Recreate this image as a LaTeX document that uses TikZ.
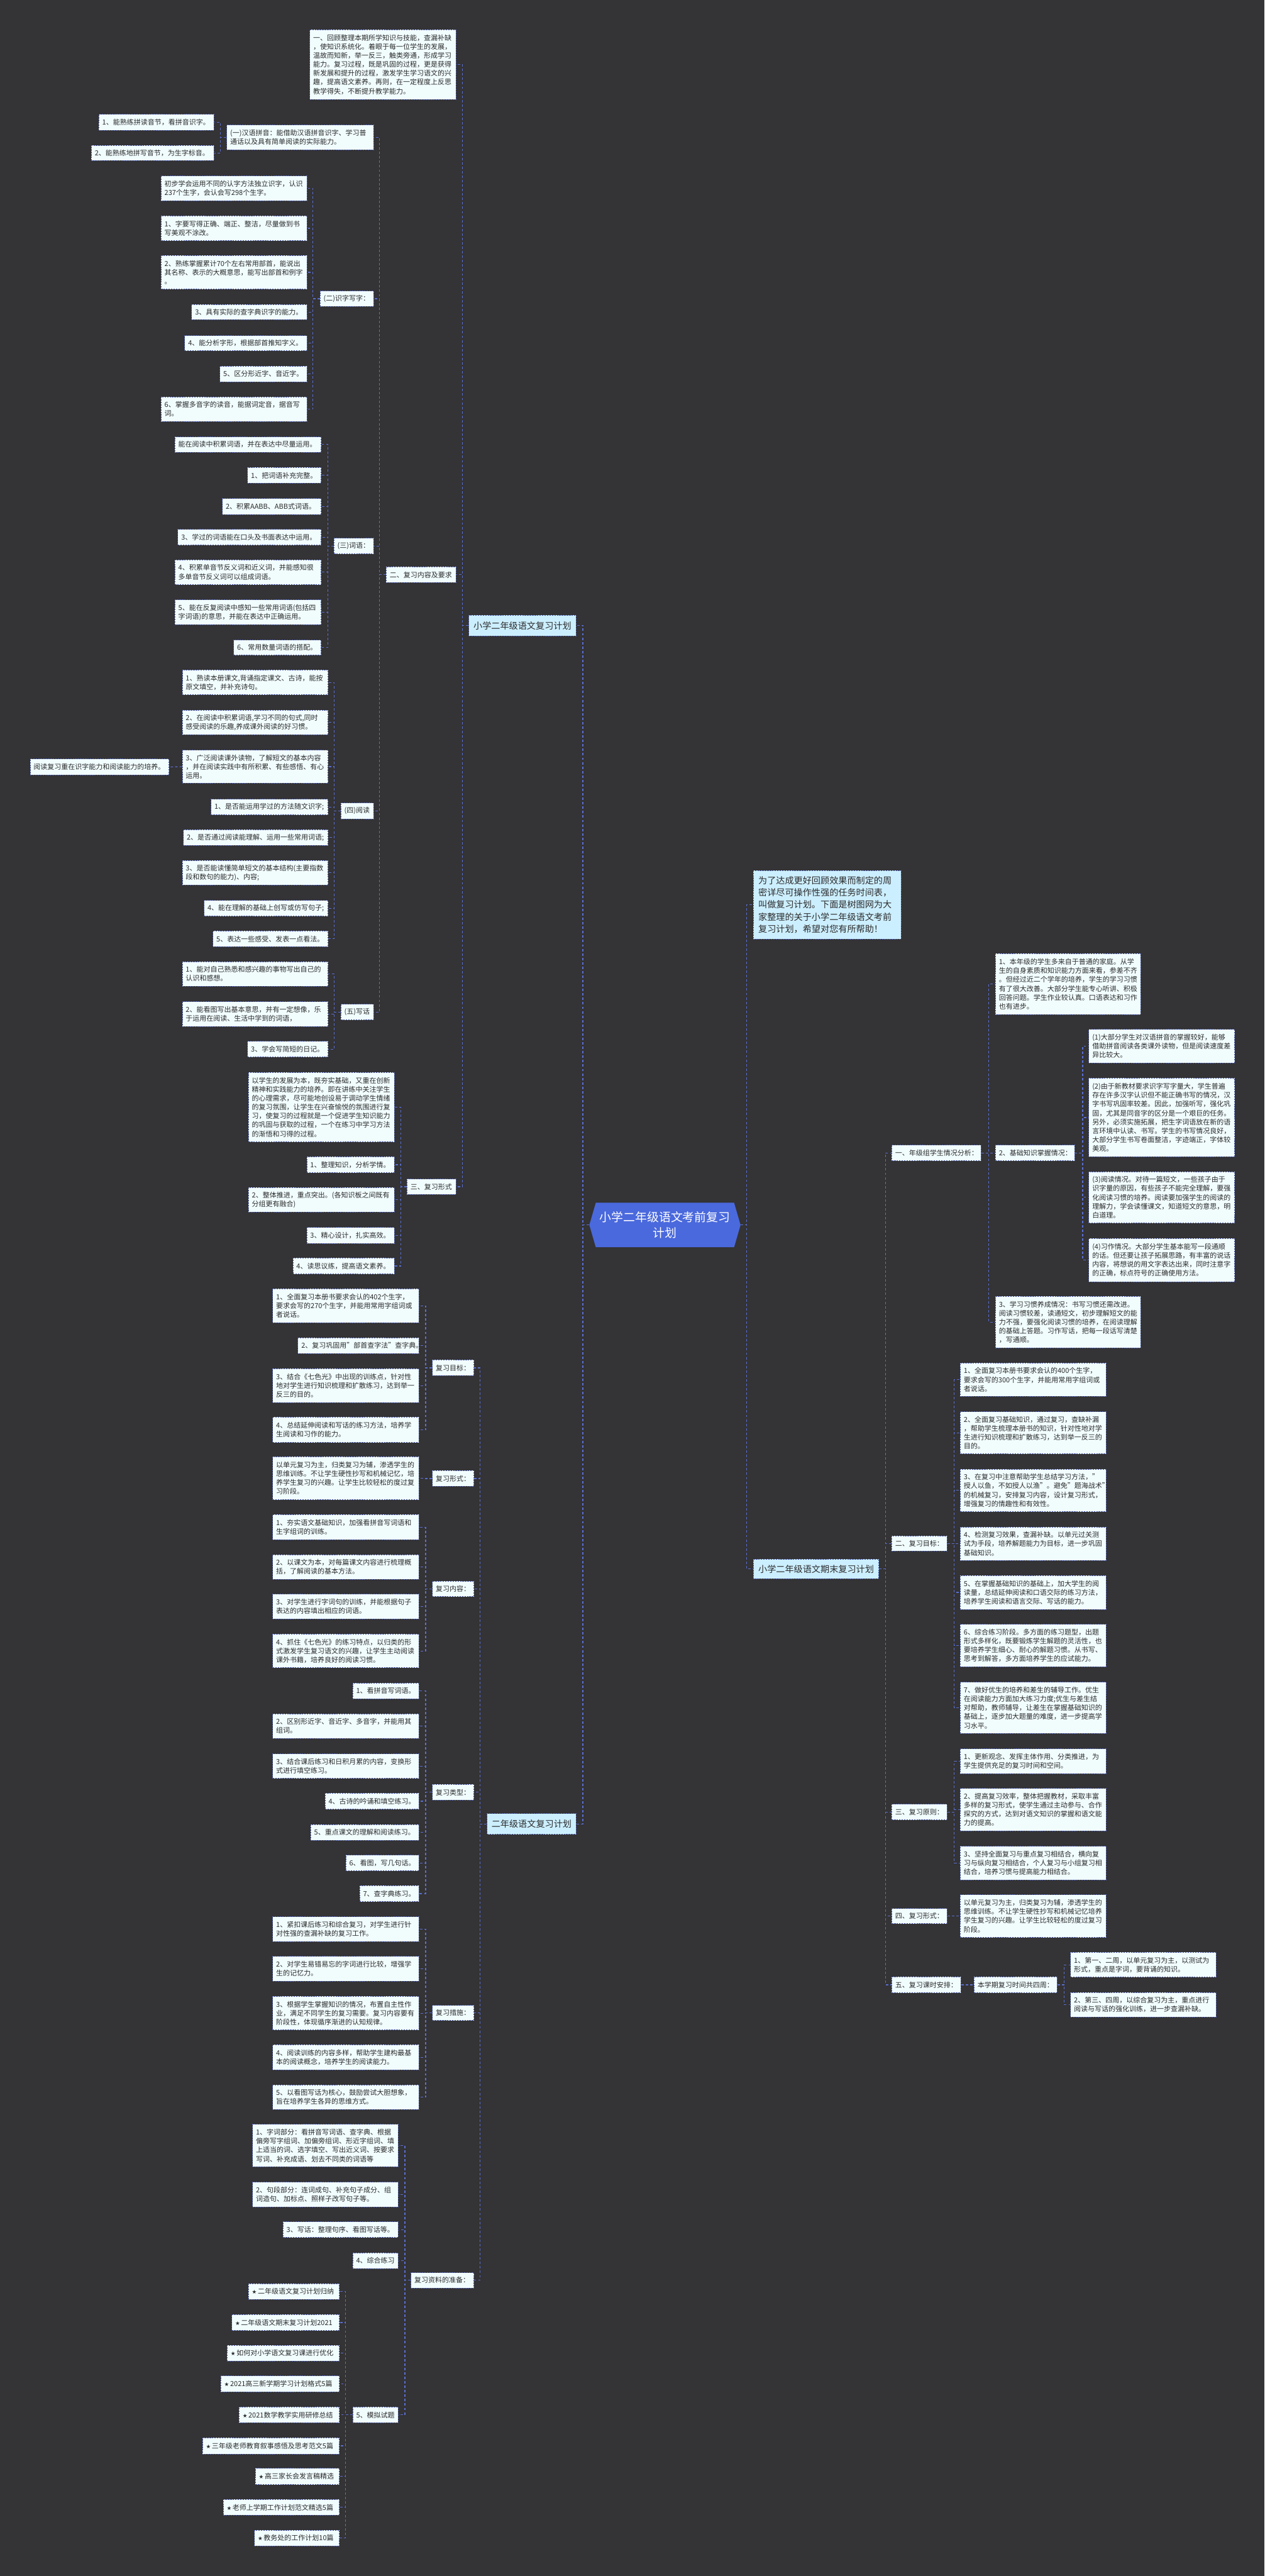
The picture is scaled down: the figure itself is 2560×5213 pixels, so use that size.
\documentclass[tikz,border=0pt]{standalone}
\usepackage{fontspec}
\setmainfont{Noto Sans CJK SC}
\newfontfamily\symfont{DejaVu Sans}
\newcommand\stq{{\symfont\fontsize{11}{18}\selectfont ★}\hspace{2pt}}
\definecolor{bgc}{HTML}{343335}
\definecolor{boxf}{HTML}{F1FCFD}
\definecolor{boxd}{HTML}{4E5FA6}
\definecolor{connc}{HTML}{5A6ED0}
\definecolor{lonef}{HTML}{CCEFFF}
\definecolor{centf}{HTML}{4A69DD}
\definecolor{txtc}{HTML}{2B2B2B}
\tikzset{
 tbox/.style={draw=boxd, fill=boxf, line width=1pt, dash pattern=on 3pt off 2pt, inner xsep=7pt, inner ysep=0pt, align=left, text=txtc, font=\fontsize{14}{18}\selectfont},
 lbox/.style={draw=boxd, fill=lonef, line width=1pt, dash pattern=on 3pt off 2pt, inner sep=0pt, align=center, text=txtc, font=\fontsize{18}{24}\selectfont},
 lnk/.style={draw=connc, line width=1.5pt, dash pattern=on 5pt off 4pt},
 cnode/.style={inner sep=0pt, align=center, text=white, font=\fontsize{24}{31}\selectfont}
}
\newcommand\nbx[7][]{%
 \pgfmathsetmacro\bxw{#5-#3}%
 \pgfmathsetmacro\bxh{#6-#4}%
 \pgfmathsetmacro\bxt{#5-#3-14}%
 \node[tbox,minimum width=\bxw pt,minimum height=\bxh pt,text width=\bxt pt,#1] (#2) at ({(#3+#5)/2},{(#4+#6)/2}) {#7};}
\newcommand\lconn[3]{\foreach \cc in {#3}{\draw[lnk] (#1.west) -- ++(-#2,0) |- (\cc.east);}}
\newcommand\rconn[3]{\foreach \cc in {#3}{\draw[lnk] (#1.east) -- ++(#2,0) |- (\cc.west);}}
\begin{document}
\begin{tikzpicture}[x=1pt,y=-1pt]
\useasboundingbox (0,0) rectangle (2560,5213);
\fill[bgc] (0,0) rectangle (2560,5213);

% ---------- center ----------
\fill[centf] (1193,2479) -- (1206,2434) -- (1486,2434) -- (1499,2479) -- (1486,2524) -- (1206,2524) -- cycle;
\node[cnode,minimum width=306pt,minimum height=90pt] (M) at (1346,2479) {小学二年级语文考前复习\\计划};

% ---------- level 1 ----------
\node[lbox,minimum width=217pt,minimum height=42pt] (A) at (1057.5,1266) {小学二年级语文复习计划};
\node[lbox,minimum width=180pt,minimum height=42pt] (D) at (1076,3691) {二年级语文复习计划};
\node[lbox,minimum width=254pt,minimum height=40pt] (R) at (1652,3175) {小学二年级语文期末复习计划};
\node[lbox,minimum width=299pt,minimum height=138pt,text width=279pt,align=left,font=\fontsize{18}{24.4}\selectfont] (I) at (1674.5,1831) {为了达成更好回顾效果而制定的周\\密详尽可操作性强的任务时间表，\\叫做复习计划。下面是树图网为大\\家整理的关于小学二年级语文考前\\复习计划，希望对您有所帮助！};

% ---------- branch A ----------
\nbx{A0}{627}{60}{923}{201}{一、回顾整理本期所学知识与技能，查漏补缺\\，使知识系统化。着眼于每一位学生的发展，\\温故而知新，举一反三，触类旁通，形成学习\\能力。复习过程，既是巩固的过程，更是获得\\新发展和提升的过程，激发学生学习语文的兴\\趣，提高语文素养。再则，在一定程度上反思\\教学得失，不断提升教学能力。}
\nbx{A2}{782}{1147}{923}{1179}{二、复习内容及要求}
\nbx{A3}{824}{2386}{923}{2417}{三、复习形式}

\nbx{B1}{459}{253}{756}{303}{(一)汉语拼音：能借助汉语拼音识字、学习普\\通话以及具有简单阅读的实际能力。}
\nbx{B1a}{200}{231}{433}{264}{1、能熟练拼读音节，看拼音识字。}
\nbx{B1b}{185}{294}{433}{325}{2、能熟练地拼写音节，为生字标音。}

\nbx{B2}{648}{589}{756}{620}{(二)识字写字：}
\nbx{B2a}{326}{356}{621}{406}{初步学会运用不同的认字方法独立识字，认识\\237个生字，会认会写298个生字。}
\nbx{B2b}{326}{437}{621}{487}{1、字要写得正确、端正、整洁，尽量做到书\\写美观不涂改。}
\nbx{B2c}{326}{517}{621}{585}{2、熟练掌握累计70个左右常用部首，能说出\\其名称、表示的大概意思，能写出部首和例字\\。}
\nbx{B2d}{388}{616}{621}{647}{3、具有实际的查字典识字的能力。}
\nbx{B2e}{374}{679}{621}{710}{4、能分析字形，根据部首推知字义。}
\nbx{B2f}{445}{741}{621}{773}{5、区分形近字、音近字。}
\nbx{B2g}{326}{803}{621}{853}{6、掌握多音字的读音，能据词定音，据音写\\词。}

\nbx{B3}{676}{1089}{756}{1121}{(三)词语：}
\nbx{B3a}{354}{884}{650}{915}{能在阅读中积累词语，并在表达中尽量运用。}
\nbx{B3b}{501}{946}{650}{978}{1、把词语补充完整。}
\nbx{B3c}{450}{1009}{650}{1041}{2、积累AABB、ABB式词语。}
\nbx{B3d}{360}{1071}{650}{1103}{3、学过的词语能在口头及书面表达中运用。}
\nbx{B3e}{354}{1133}{650}{1183}{4、积累单音节反义词和近义词，并能感知很\\多单音节反义词可以组成词语。}
\nbx{B3f}{354}{1214}{650}{1264}{5、能在反复阅读中感知一些常用词语(包括四\\字词语)的意思，并能在表达中正确运用。}
\nbx{B3g}{473}{1295}{650}{1326}{6、常用数量词语的搭配。}

\nbx{B4}{690}{1625}{756}{1657}{(四)阅读}
\nbx{B4a}{369}{1356}{664}{1406}{1、熟读本册课文,背诵指定课文、古诗，能按\\原文填空，并补充诗句。}
\nbx{B4b}{369}{1437}{664}{1487}{2、在阅读中积累词语,学习不同的句式,同时\\感受阅读的乐趣,养成课外阅读的好习惯。}
\nbx{B4c}{369}{1518}{664}{1585}{3、广泛阅读课外读物，了解短文的基本内容\\，并在阅读实践中有所积累、有些感悟、有心\\运用。}
\nbx{B4x}{61}{1536}{342}{1568}{阅读复习重在识字能力和阅读能力的培养。}
\nbx{B4d}{427}{1617}{664}{1649}{1、是否能运用学过的方法随文识字;}
\nbx{B4e}{371}{1679}{664}{1711}{2、是否通过阅读能理解、运用一些常用词语;}
\nbx{B4f}{369}{1741}{664}{1791}{3、是否能读懂简单短文的基本结构(主要指数\\段和数句的能力)、内容;}
\nbx{B4g}{413}{1822}{664}{1854}{4、能在理解的基础上创写或仿写句子;}
\nbx{B4h}{431}{1884}{664}{1916}{5、表达一些感受、发表一点看法。}

\nbx{B5}{690}{2032}{756}{2064}{(五)写话}
\nbx{B5a}{369}{1946}{664}{1996}{1、能对自己熟悉和感兴趣的事物写出自己的\\认识和感想。}
\nbx{B5b}{369}{2027}{664}{2077}{2、能看图写出基本意思，并有一定想像，乐\\于运用在阅读、生活中学到的词语，}
\nbx{B5c}{501}{2107}{664}{2139}{3、学会写简短的日记。}

\nbx{C1}{503}{2170}{798}{2311}{以学生的发展为本，既夯实基础，又重在创新\\精神和实践能力的培养。即在讲练中关注学生\\的心理需求，尽可能地创设易于调动学生情绪\\的复习氛围，让学生在兴奋愉悦的氛围进行复\\习，使复习的过程就是一个促进学生知识能力\\的巩固与获取的过程，一个在练习中学习方法\\的渐悟和习得的过程。}
\nbx{C2}{621}{2341}{798}{2373}{1、整理知识，分析学情。}
\nbx{C3}{503}{2403}{798}{2453}{2、整体推进，重点突出。(各知识板之间既有\\分组更有融合)}
\nbx{C4}{621}{2484}{798}{2516}{3、精心设计，扎实高效。}
\nbx{C5}{593}{2546}{798}{2578}{4、读思议练，提高语文素养。}

% ---------- branch D ----------
\nbx{D1}{875}{2752}{959}{2784}{复习目标：}
\nbx{D1a}{552}{2608}{848}{2677}{1、全面复习本册书要求会认的402个生字，\\要求会写的270个生字，并能用常用字组词或\\者说话。}
\nbx{D1b}{603}{2707}{848}{2739}{2、复习巩固用"部首查字法"查字典。}
\nbx{D1c}{552}{2770}{848}{2838}{3、结合《七色光》中出现的训练点，针对性\\地对学生进行知识梳理和扩散练习，达到举一\\反三的目的。}
\nbx{D1d}{552}{2868}{848}{2919}{4、总结延伸阅读和写话的练习方法，培养学\\生阅读和习作的能力。}

\nbx{D2}{875}{2976}{959}{3008}{复习形式：}
\nbx{D2a}{552}{2948}{848}{3035}{以单元复习为主，归类复习为辅，渗透学生的\\思维训练。不让学生硬性抄写和机械记忆，培\\养学生复习的兴趣。让学生比较轻松的度过复\\习阶段。}

\nbx{D3}{875}{3200}{959}{3231}{复习内容：}
\nbx{D3a}{552}{3065}{848}{3116}{1、夯实语文基础知识，加强看拼音写词语和\\生字组词的训练。}
\nbx{D3b}{552}{3146}{848}{3196}{2、以课文为本，对每篇课文内容进行梳理概\\括，了解阅读的基本方法。}
\nbx{D3c}{552}{3226}{848}{3276}{3、对学生进行字词句的训练，并能根据句子\\表达的内容填出相应的词语。}
\nbx{D3d}{552}{3307}{848}{3375}{4、抓住《七色光》的练习特点，以归类的形\\式激发学生复习语文的兴趣，让学生主动阅读\\课外书籍，培养良好的阅读习惯。}

\nbx{D4}{875}{3611}{959}{3643}{复习类型：}
\nbx{D4a}{714}{3406}{848}{3438}{1、看拼音写词语。}
\nbx{D4b}{552}{3468}{848}{3518}{2、区别形近字、音近字、多音字，并能用其\\组词。}
\nbx{D4c}{552}{3549}{848}{3599}{3、结合课后练习和日积月累的内容，变换形\\式进行填空练习。}
\nbx{D4d}{658}{3629}{848}{3661}{4、古诗的吟诵和填空练习。}
\nbx{D4e}{629}{3692}{848}{3724}{5、重点课文的理解和阅读练习。}
\nbx{D4f}{700}{3754}{848}{3786}{6、看图，写几句话。}
\nbx{D4g}{728}{3816}{848}{3848}{7、查字典练习。}

\nbx{D5}{875}{4058}{959}{4089}{复习措施：}
\nbx{D5a}{552}{3879}{848}{3929}{1、紧扣课后练习和综合复习，对学生进行针\\对性强的查漏补缺的复习工作。}
\nbx{D5b}{552}{3959}{848}{4009}{2、对学生易错易忘的字词进行比较，增强学\\生的记忆力。}
\nbx{D5c}{552}{4040}{848}{4108}{3、根据学生掌握知识的情况，布置自主性作\\业，满足不同学生的复习需要。复习内容要有\\阶段性，体现循序渐进的认知规律。}
\nbx{D5d}{552}{4138}{848}{4189}{4、阅读训练的内容多样，帮助学生建构最基\\本的阅读概念，培养学生的阅读能力。}
\nbx{D5e}{552}{4219}{848}{4269}{5、以看图写话为核心，鼓励尝试大胆想象，\\旨在培养学生各异的思维方式。}

\nbx{D6}{832}{4599}{959}{4630}{复习资料的准备：}
\nbx{D6a}{511}{4299}{806}{4385}{1、字词部分：看拼音写词语、查字典、根据\\偏旁写字组词、加偏旁组词、形近字组词、填\\上适当的词、选字填空、写出近义词、按要求\\写词、补充成语、划去不同类的词语等}
\nbx{D6b}{511}{4416}{806}{4466}{2、句段部分：连词成句、补充句子成分、组\\词造句、加标点、照样子改写句子等。}
\nbx{D6c}{573}{4496}{806}{4528}{3、写话：整理句序、看图写话等。}
\nbx{D6d}{714}{4559}{806}{4591}{4、综合练习}
\nbx{D6e}{714}{4871}{806}{4903}{5、模拟试题}

\nbx{E1}{503}{4621}{687}{4653}{\stq 二年级语文复习计划归纳}
\nbx{E2}{469}{4684}{687}{4716}{\stq 二年级语文期末复习计划2021}
\nbx{E3}{460}{4746}{687}{4778}{\stq 如何对小学语文复习课进行优化}
\nbx{E4}{447}{4808}{687}{4840}{\stq 2021高三新学期学习计划格式5篇}
\nbx{E5}{484}{4871}{687}{4903}{\stq 2021数学教学实用研修总结}
\nbx{E6}{410}{4933}{687}{4966}{\stq 三年级老师教育叙事感悟及思考范文5篇}
\nbx{E7}{517}{4995}{687}{5028}{\stq 高三家长会发言稿精选}
\nbx{E8}{452}{5058}{687}{5090}{\stq 老师上学期工作计划范文精选5篇}
\nbx{E9}{515}{5120}{687}{5152}{\stq 教务处的工作计划10篇}

% ---------- branch R ----------
\nbx{R1}{1805}{2317}{1986}{2349}{一、年级组学生情况分析：}
\nbx{R1a}{2015}{1930}{2309}{2053}{1、本年级的学生多来自于普通的家庭。从学\\生的自身素质和知识能力方面来看，参差不齐\\。但经过近二个学年的培养，学生的学习习惯\\有了很大改善。大部分学生能专心听讲、积极\\回答问题。学生作业较认真。口语表达和习作\\也有进步。}
\nbx{R1b}{2015}{2317}{2175}{2349}{2、基础知识掌握情况：}
\nbx{R1c}{2015}{2623}{2309}{2728}{3、学习习惯养成情况：书写习惯还需改进。\\阅读习惯较差，读通短文，初步理解短文的能\\力不强，要强化阅读习惯的培养，在阅读理解\\的基础上答题。习作写话，把每一段话写清楚\\，写通顺。}
\nbx{R1b1}{2204}{2083}{2499}{2151}{(1)大部分学生对汉语拼音的掌握较好，能够\\借助拼音阅读各类课外读物，但是阅读速度差\\异比较大。}
\nbx{R1b2}{2204}{2182}{2499}{2341}{(2)由于新教材要求识字写字量大，学生普遍\\存在许多汉字认识但不能正确书写的情况，汉\\字书写巩固率较差。因此，加强听写，强化巩\\固，尤其是同音字的区分是一个艰巨的任务。\\另外，必须实施拓展，把生字词语放在新的语\\言环境中认读、书写。学生的书写情况良好，\\大部分学生书写卷面整洁，字迹端正，字体较\\美观。}
\nbx{R1b3}{2204}{2371}{2499}{2475}{(3)阅读情况。对待一篇短文，一些孩子由于\\识字量的原因，有些孩子不能完全理解，要强\\化阅读习惯的培养。阅读要加强学生的阅读的\\理解力，学会读懂课文，知道短文的意思，明\\白道理。}
\nbx{R1b4}{2204}{2506}{2499}{2594}{(4)习作情况。大部分学生基本能写一段通顺\\的话。但还要让孩子拓展思路，有丰富的说话\\内容，将想说的用文字表达出来，同时注意字\\的正确，标点符号的正确使用方法。}

\nbx{R2}{1805}{3108}{1917}{3139}{二、复习目标：}
\nbx{R2a}{1944}{2758}{2239}{2826}{1、全面复习本册书要求会认的400个生字，\\要求会写的300个生字，并能用常用字组词或\\者说话。}
\nbx{R2b}{1944}{2857}{2239}{2942}{2、全面复习基础知识，通过复习，查缺补漏\\，帮助学生梳理本册书的知识，针对性地对学\\生进行知识梳理和扩散练习，达到举一反三的\\目的。}
\nbx{R2c}{1944}{2973}{2239}{3059}{3、在复习中注意帮助学生总结学习方法，"\\授人以鱼，不如授人以渔"。避免"题海战术"\\的机械复习，安排复习内容，设计复习形式，\\增强复习的情趣性和有效性。}
\nbx{R2d}{1944}{3090}{2239}{3158}{4、检测复习效果，查漏补缺。以单元过关测\\试为手段，培养解题能力为目标，进一步巩固\\基础知识。}
\nbx{R2e}{1944}{3188}{2239}{3257}{5、在掌握基础知识的基础上，加大学生的阅\\读量，总结延伸阅读和口语交际的练习方法，\\培养学生阅读和语言交际、写话的能力。}
\nbx{R2f}{1944}{3287}{2239}{3373}{6、综合练习阶段。多方面的练习题型，出题\\形式多样化，既要锻炼学生解题的灵活性，也\\要培养学生细心、耐心的解题习惯。从书写、\\思考到解答，多方面培养学生的应试能力。}
\nbx{R2g}{1944}{3404}{2239}{3508}{7、做好优生的培养和差生的辅导工作。优生\\在阅读能力方面加大练习力度;优生与差生结\\对帮助，教师辅导，让差生在掌握基础知识的\\基础上，逐步加大题量的难度，进一步提高学\\习水平。}

\nbx{R3}{1805}{3651}{1917}{3683}{三、复习原则：}
\nbx{R3a}{1944}{3539}{2239}{3589}{1、更新观念、发挥主体作用、分类推进，为\\学生提供充足的复习时间和空间。}
\nbx{R3b}{1944}{3619}{2239}{3705}{2、提高复习效率，整体把握教材，采取丰富\\多样的复习形式，使学生通过主动参与、合作\\探究的方式，达到对语文知识的掌握和语文能\\力的提高。}
\nbx{R3c}{1944}{3736}{2239}{3804}{3、坚持全面复习与重点复习相结合，横向复\\习与纵向复习相结合，个人复习与小组复习相\\结合，培养习惯与提高能力相结合。}

\nbx{R4}{1805}{3862}{1917}{3893}{四、复习形式：}
\nbx{R4a}{1944}{3834}{2239}{3921}{以单元复习为主，归类复习为辅，渗透学生的\\思维训练。不让学生硬性抄写和机械记忆培养\\学生复习的兴趣。让学生比较轻松的度过复习\\阶段。}

\nbx{R5}{1805}{4000}{1945}{4033}{五、复习课时安排：}
\nbx{R5a}{1972}{4000}{2140}{4033}{本学期复习时间共四周：}
\nbx{R5a1}{2167}{3951}{2462}{4001}{1、第一、二周，以单元复习为主，以测试为\\形式，重点是字词，要背诵的知识。}
\nbx{R5a2}{2167}{4032}{2462}{4082}{2、第三、四周，以综合复习为主，重点进行\\阅读与写话的强化训练，进一步查漏补缺。}

% ---------- connectors ----------
\lconn{M}{13}{A,D}
\rconn{M}{12}{I,R}
\lconn{A}{12}{A0,A2,A3}
\lconn{A2}{13}{B1,B2,B3,B4,B5}
\lconn{B1}{12}{B1a,B1b}
\lconn{B2}{14}{B2a,B2b,B2c,B2d,B2e,B2f,B2g}
\lconn{B3}{12}{B3a,B3b,B3c,B3d,B3e,B3f,B3g}
\lconn{B4}{13}{B4a,B4b,B4c,B4d,B4e,B4f,B4g,B4h}
\draw[lnk] (B4c.west) -- (B4x.east);
\lconn{B5}{13}{B5a,B5b,B5c}
\lconn{A3}{12}{C1,C2,C3,C4,C5}
\lconn{D}{14}{D1,D2,D3,D4,D5,D6}
\lconn{D1}{13}{D1a,D1b,D1c,D1d}
\lconn{D2}{13}{D2a}
\lconn{D3}{13}{D3a,D3b,D3c,D3d}
\lconn{D4}{13}{D4a,D4b,D4c,D4d,D4e,D4f,D4g}
\lconn{D5}{13}{D5a,D5b,D5c,D5d,D5e}
\lconn{D6}{12}{D6a,D6b,D6c,D6d,D6e}
\lconn{D6e}{14}{E1,E2,E3,E4,E5,E6,E7,E8,E9}
\rconn{R}{13}{R1,R2,R3,R4,R5}
\rconn{R1}{15}{R1a,R1b,R1c}
\rconn{R1b}{16}{R1b1,R1b2,R1b3,R1b4}
\rconn{R2}{14}{R2a,R2b,R2c,R2d,R2e,R2f,R2g}
\rconn{R3}{14}{R3a,R3b,R3c}
\rconn{R4}{14}{R4a}
\rconn{R5}{14}{R5a}
\rconn{R5a}{14}{R5a1,R5a2}
\end{tikzpicture}
\end{document}
